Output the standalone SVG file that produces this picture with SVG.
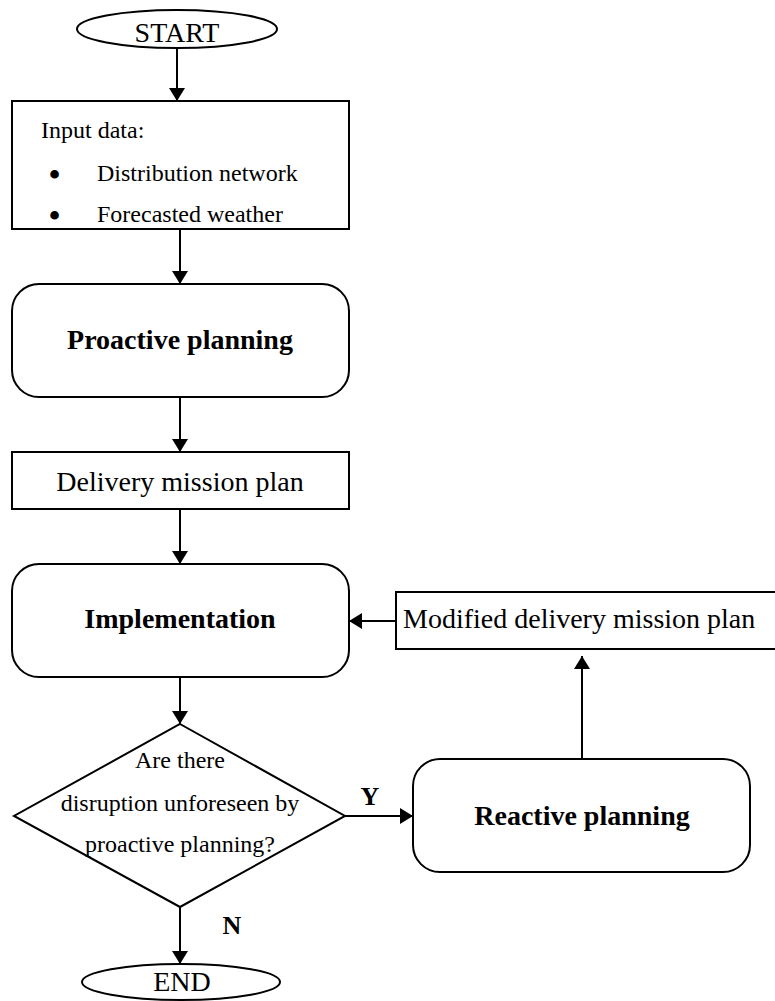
<svg xmlns="http://www.w3.org/2000/svg" width="775" height="1001" viewBox="0 0 775 1001">
<defs>
<marker id="ah" markerWidth="16" markerHeight="16" refX="13" refY="8" orient="auto" markerUnits="userSpaceOnUse">
<path d="M0,0 L13,8 L0,16 Z" fill="#000"/>
</marker>
<style>
.shape{fill:#fff;stroke:#000;stroke-width:2}
.t{font-family:"Liberation Serif","Times New Roman",serif;fill:#000}
.n{font-size:24px}
.m{font-size:28px}
.b{font-size:28px;font-weight:bold}
.c{text-anchor:middle}
.bul{font-size:36px}
.conn line{stroke:#000;stroke-width:2;marker-end:url(#ah)}
</style>
</defs>
<rect width="775" height="1001" fill="#fff"/>
<g id="start">
<ellipse class="shape" cx="177" cy="29" rx="100" ry="19"/>
<text class="t m c" x="177" y="42">START</text>
</g>
<g id="input">
<rect class="shape" x="12" y="101" width="337" height="128"/>
<text class="t n" x="41" y="138">Input data:</text>
<text class="t bul c" x="54.5" y="187">•</text>
<text class="t n" x="97" y="181">Distribution network</text>
<text class="t bul c" x="54.5" y="228">•</text>
<text class="t n" x="97" y="222">Forecasted weather</text>
</g>
<g id="proactive">
<rect class="shape" x="12" y="284" width="337" height="113" rx="27" ry="27"/>
<text class="t b c" x="180" y="349">Proactive planning</text>
</g>
<g id="delivery">
<rect class="shape" x="12" y="452" width="337" height="57"/>
<text class="t m c" x="180" y="491">Delivery mission plan</text>
</g>
<g id="implementation">
<rect class="shape" x="12" y="564" width="337" height="113" rx="27" ry="27"/>
<text class="t b c" x="180" y="628">Implementation</text>
</g>
<g id="modified">
<rect class="shape" x="396" y="592" width="390" height="57"/>
<text class="t m" x="403" y="628">Modified delivery mission plan</text>
</g>
<g id="decision">
<polygon class="shape" points="180,724 345,816 180,907 14,816"/>
<text class="t n c" x="180" y="768">Are there</text>
<text class="t n c" x="180" y="811">disruption unforeseen by</text>
<text class="t n c" x="180" y="852">proactive planning?</text>
</g>
<g id="reactive">
<rect class="shape" x="413" y="759" width="337" height="113" rx="27" ry="27"/>
<text class="t b c" x="582" y="825">Reactive planning</text>
</g>
<g id="end">
<ellipse class="shape" cx="181" cy="982" rx="99" ry="18"/>
<text class="t m c" x="182" y="991">END</text>
</g>
<g id="connectors" class="conn">
<line x1="177" y1="48" x2="177" y2="101"/>
<line x1="180" y1="229" x2="180" y2="284"/>
<line x1="180" y1="397" x2="180" y2="452"/>
<line x1="180" y1="509" x2="180" y2="564"/>
<line x1="180" y1="677" x2="180" y2="724"/>
<line x1="345" y1="816" x2="413" y2="816"/>
<line x1="582" y1="759" x2="582" y2="656"/>
<line x1="396" y1="621" x2="349" y2="621"/>
<line x1="180" y1="907" x2="180" y2="964"/>
</g>
<g id="labels">
<text class="t c" x="370" y="805" style="font-size:26px;font-weight:bold">Y</text>
<text class="t c" x="232" y="934" style="font-size:26px;font-weight:bold">N</text>
</g>
</svg>
